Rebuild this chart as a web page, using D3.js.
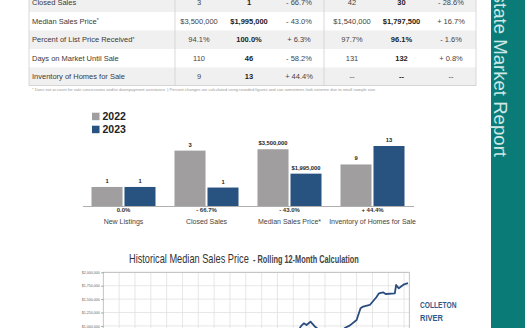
<!DOCTYPE html>
<html>
<head>
<meta charset="utf-8">
<script src="https://cdn.jsdelivr.net/npm/d3@7"></script>
<style>
html, body { margin: 0; padding: 0; background: #fff; overflow: hidden; }
svg { display: block; }
text { font-family: "Liberation Sans", Arial, sans-serif; }
</style>
</head>
<body>
<svg width="525" height="328"></svg>
<script>
// ---- table data
var rowLabels = ["Closed Sales", "Median Sales Price", "Percent of List Price Received", "Days on Market Until Sale", "Inventory of Homes for Sale"];
var rowStar = [false, true, true, false, false];
var month2022 = ["3", "$3,500,000", "94.1%", "110", "9"];
var month2023 = ["1", "$1,995,000", "100.0%", "46", "13"];
var monthChange = ["- 66.7%", "- 43.0%", "+ 6.3%", "- 58.2%", "+ 44.4%"];
var ytd2022 = ["42", "$1,540,000", "97.7%", "131", "--"];
var ytd2023 = ["30", "$1,797,500", "96.1%", "132", "--"];
var ytdChange = ["- 28.6%", "+ 16.7%", "- 1.6%", "+ 0.8%", "--"];
var footnote = "* Does not account for sale concessions and/or downpayment assistance.  |  Percent changes are calculated using rounded figures and can sometimes look extreme due to small sample size.";

// ---- bar chart data
var years = ["2022", "2023"];
var barCats = ["New Listings", "Closed Sales", "Median Sales Price*", "Inventory of Homes for Sale"];
var bars2022 = [1, 3, 3500000, 9];
var bars2023 = [1, 1, 1995000, 13];
var barChange = ["0.0%", "- 66.7%", "- 43.0%", "+ 44.4%"];
var barAxisMax = [3.15, 3.25, 3700000, 13]; // each mini chart has its own axis

// ---- historical line (rolling 12-month median), only the part that shows
var lineDates = ["2015-09", "2016-03", "2016-07", "2016-09", "2016-11", "2017-02", "2017-06", "2017-10",
                 "2018-06", "2019-01", "2019-04", "2019-08", "2020-01", "2020-04", "2020-06", "2020-11",
                 "2021-04", "2021-06", "2021-09", "2021-11", "2022-06", "2022-07", "2022-09", "2023-01", "2023-04"];
var lineValues = [780000, 830000, 1000000, 1049000, 1017000, 1078000, 974000, 900000,
                  850000, 880000, 960000, 1010000, 1110000, 1328000, 1360000, 1390000,
                  1534000, 1608000, 1627000, 1595000, 1608000, 1763000, 1701000, 1776000, 1797500];
var yTicks = [0, 250000, 500000, 750000, 1000000, 1250000, 1500000, 1750000, 2000000];

var gray = "#a09e9f", blue = "#28527f";
var svg = d3.select("svg");

// squeeze a text horizontally to a given width (the original uses a condensed face)
function squeeze(sel, x0, y0, w) {
    var n = sel.node().getComputedTextLength();
    sel.attr("x", 0).attr("y", 0)
       .attr("transform", "translate(" + x0 + "," + y0 + ") scale(" + (w / n) + ",1)");
}

// ================= table =================
var rowY = d3.scaleBand().domain(d3.range(rowLabels.length)).range([-6.5, 86]);
var colA = d3.scalePoint().domain([0, 1, 2]).range([199, 299]);
var colB = d3.scalePoint().domain([0, 1, 2]).range([352, 451]);

var table = svg.append("g");
table.selectAll("rect.row")
    .data(rowLabels)
    .enter().append("rect")
    .attr("x", 29).attr("width", 447)
    .attr("y", function(d, i) { return rowY(i); })
    .attr("height", rowY.bandwidth())
    .attr("fill", function(d, i) { return i % 2 == 0 ? "#f1f0f1" : "#fff"; });

table.append("rect")
    .attr("x", 29).attr("y", -20).attr("width", 447).attr("height", 105.5)
    .attr("fill", "none").attr("stroke", "#cfcfcf").attr("stroke-width", 0.8);
[175, 324].forEach(function(xx) {
    table.append("line").attr("x1", xx).attr("x2", xx).attr("y1", -20).attr("y2", 85.5)
        .attr("stroke", "#cfcfcf").attr("stroke-width", 0.8);
});

var lab = table.selectAll("text.lab")
    .data(rowLabels)
    .enter().append("text")
    .attr("x", 32)
    .attr("y", function(d, i) { return rowY(i) + rowY.bandwidth() / 2; })
    .attr("dy", "0.35em")
    .attr("font-size", 7.5).attr("fill", "#3a3a3a")
    .text(function(d) { return d; });
lab.filter(function(d, i) { return rowStar[i]; })
    .append("tspan").attr("dy", "-0.3em").attr("font-size", 5).text("*");

function column(vals, xx, bold) {
    table.selectAll(null)
        .data(vals)
        .enter().append("text")
        .attr("x", xx)
        .attr("y", function(d, i) { return rowY(i) + rowY.bandwidth() / 2; })
        .attr("dy", "0.35em")
        .attr("text-anchor", "middle")
        .attr("font-size", 7.5)
        .attr("font-weight", bold ? "bold" : "normal")
        .attr("fill", bold ? "#222" : "#444")
        .text(function(d) { return d; });
}
column(month2022, colA(0), false);
column(month2023, colA(1), true);
column(monthChange, colA(2), false);
column(ytd2022, colB(0), false);
column(ytd2023, colB(1), true);
column(ytdChange, colB(2), false);

var foot = svg.append("text")
    .attr("font-size", 3.4).attr("fill", "#9a9a9a")
    .text(footnote);
squeeze(foot, 32, 90.5, 344);

// ================= bar chart =================
var legend = svg.append("g");
legend.selectAll("g")
    .data(years)
    .enter().append("g")
    .each(function(d, i) {
        var g = d3.select(this);
        g.append("rect").attr("x", 92).attr("y", 112.7 + i * 13).attr("width", 7.5).attr("height", 7.5)
            .attr("fill", i == 0 ? gray : blue);
        g.append("text").attr("x", 102.5).attr("y", 116.6 + i * 13).attr("dy", "0.36em")
            .attr("font-size", 10.5).attr("font-weight", "bold").attr("fill", "#222").text(d);
    });

var base = 206;
var xb = d3.scaleBand().domain(barCats).range([82, 414]);
var xi = d3.scaleBand().domain(years).range([0, 64]).paddingInner(0.06);
var off = (xb.bandwidth() - 64) / 2;
var money = d3.format("$,");

var groups = svg.selectAll("g.grp")
    .data(barCats)
    .enter().append("g")
    .attr("class", "grp")
    .attr("transform", function(d) { return "translate(" + (xb(d) + off) + ",0)"; });

groups.each(function(cat, i) {
    var g = d3.select(this);
    var yb = d3.scaleLinear().domain([0, barAxisMax[i]]).range([base, base - 60]);
    var vals = [bars2022[i], bars2023[i]];
    g.selectAll("rect")
        .data(vals)
        .enter().append("rect")
        .attr("x", function(d, j) { return xi(years[j]); })
        .attr("y", function(d) { return yb(d); })
        .attr("width", xi.bandwidth())
        .attr("height", function(d) { return base - yb(d); })
        .attr("fill", function(d, j) { return j == 0 ? gray : blue; });
    g.selectAll("text.v")
        .data(vals)
        .enter().append("text")
        .attr("x", function(d, j) { return xi(years[j]) + xi.bandwidth() / 2; })
        .attr("y", function(d) { return yb(d) - 6; })
        .attr("dy", "0.35em")
        .attr("text-anchor", "middle")
        .attr("font-size", 5.8).attr("font-weight", "bold").attr("fill", "#222")
        .text(function(d) { return i == 2 ? money(d) : d; });
    g.append("text")
        .attr("x", 32).attr("y", 210.3).attr("dy", "0.35em")
        .attr("text-anchor", "middle")
        .attr("font-size", 6).attr("font-weight", "bold").attr("fill", "#333")
        .text(barChange[i]);
    g.append("text")
        .attr("x", 32).attr("y", 221.7).attr("dy", "0.35em")
        .attr("text-anchor", "middle")
        .attr("font-size", 7).attr("fill", "#444")
        .text(cat);
});

svg.append("line")
    .attr("x1", 83).attr("x2", 414).attr("y1", base + 0.5).attr("y2", base + 0.5)
    .attr("stroke", "#9a9a9a").attr("stroke-width", 0.8);

// ================= historical median line =================
var parse = d3.timeParse("%Y-%m");
var x = d3.scaleTime().domain([new Date(2004, 0, 1), new Date(2023, 4, 1)]).range([103.3, 409.3]);
var y = d3.scaleLinear().domain([0, 2000000]).range([379.5, 272.3]);

var t1 = svg.append("text")
    .attr("font-size", 13.5).attr("fill", "#333")
    .text("Historical Median Sales Price");
squeeze(t1, 129, 263, 120);
var t2 = svg.append("text")
    .attr("font-size", 10).attr("font-weight", "bold").attr("fill", "#444")
    .text("- Rolling 12-Month Calculation");
squeeze(t2, 253, 263, 106);

var plot = svg.append("g");
plot.selectAll("line.vg")
    .data(x.ticks(d3.timeYear.every(1)).slice(1))
    .enter().append("line")
    .attr("x1", function(d) { return x(d); }).attr("x2", function(d) { return x(d); })
    .attr("y1", y.range()[1]).attr("y2", y.range()[0])
    .attr("stroke", "#dcdcdc").attr("stroke-width", 0.7);
plot.selectAll("line.hg")
    .data(yTicks)
    .enter().append("line")
    .attr("x1", x.range()[0]).attr("x2", x.range()[1])
    .attr("y1", function(d) { return y(d); }).attr("y2", function(d) { return y(d); })
    .attr("stroke", "#dcdcdc").attr("stroke-width", 0.7);

plot.append("rect")
    .attr("x", x.range()[0]).attr("y", y.range()[1])
    .attr("width", x.range()[1] - x.range()[0]).attr("height", y.range()[0] - y.range()[1])
    .attr("fill", "none").attr("stroke", "#b5b5b5").attr("stroke-width", 0.8);

var yAxis = plot.append("g")
    .attr("transform", "translate(" + x.range()[0] + ",0)")
    .call(d3.axisLeft(y).tickValues(yTicks).tickFormat(money).tickSize(2).tickPadding(1.5));
yAxis.select(".domain").remove();
yAxis.selectAll("line").attr("stroke", "#999");
yAxis.selectAll("text").attr("font-size", 3.6).attr("fill", "#666")
    .attr("font-family", "'Liberation Sans', sans-serif");

svg.append("clipPath").attr("id", "pc").append("rect")
    .attr("x", x.range()[0]).attr("y", y.range()[1] - 3)
    .attr("width", x.range()[1] - x.range()[0] + 3).attr("height", y.range()[0] - y.range()[1] + 3);

var pts = lineDates.map(function(d, i) { return [parse(d), lineValues[i]]; });
plot.append("path")
    .datum(pts)
    .attr("clip-path", "url(#pc)")
    .attr("fill", "none").attr("stroke", "#2b4c7e").attr("stroke-width", 1.8)
    .attr("stroke-linejoin", "round")
    .attr("d", d3.line().x(function(d) { return x(d[0]); }).y(function(d) { return y(d[1]); }));

var a1 = svg.append("text")
    .attr("font-size", 9.5).attr("font-weight", "bold").attr("fill", "#2c5a8c")
    .text("COLLETON");
squeeze(a1, 420, 308.3, 36.5);
var a2 = svg.append("text")
    .attr("font-size", 9.5).attr("font-weight", "bold").attr("fill", "#2c5a8c")
    .text("RIVER");
squeeze(a2, 420, 320.7, 23);

// ================= side band =================
svg.append("rect").attr("x", 491).attr("y", 0).attr("width", 34).attr("height", 328).attr("fill", "#0b7b78");
svg.append("text")
    .attr("transform", "translate(494,157) rotate(90)")
    .attr("text-anchor", "end")
    .attr("font-family", "'Open Sans', 'Noto Sans', sans-serif")
    .attr("font-weight", 300)
    .attr("font-size", 18.6).attr("fill", "#cfe7e5")
    .text("Real Estate Market Report");
</script>
</body>
</html>
